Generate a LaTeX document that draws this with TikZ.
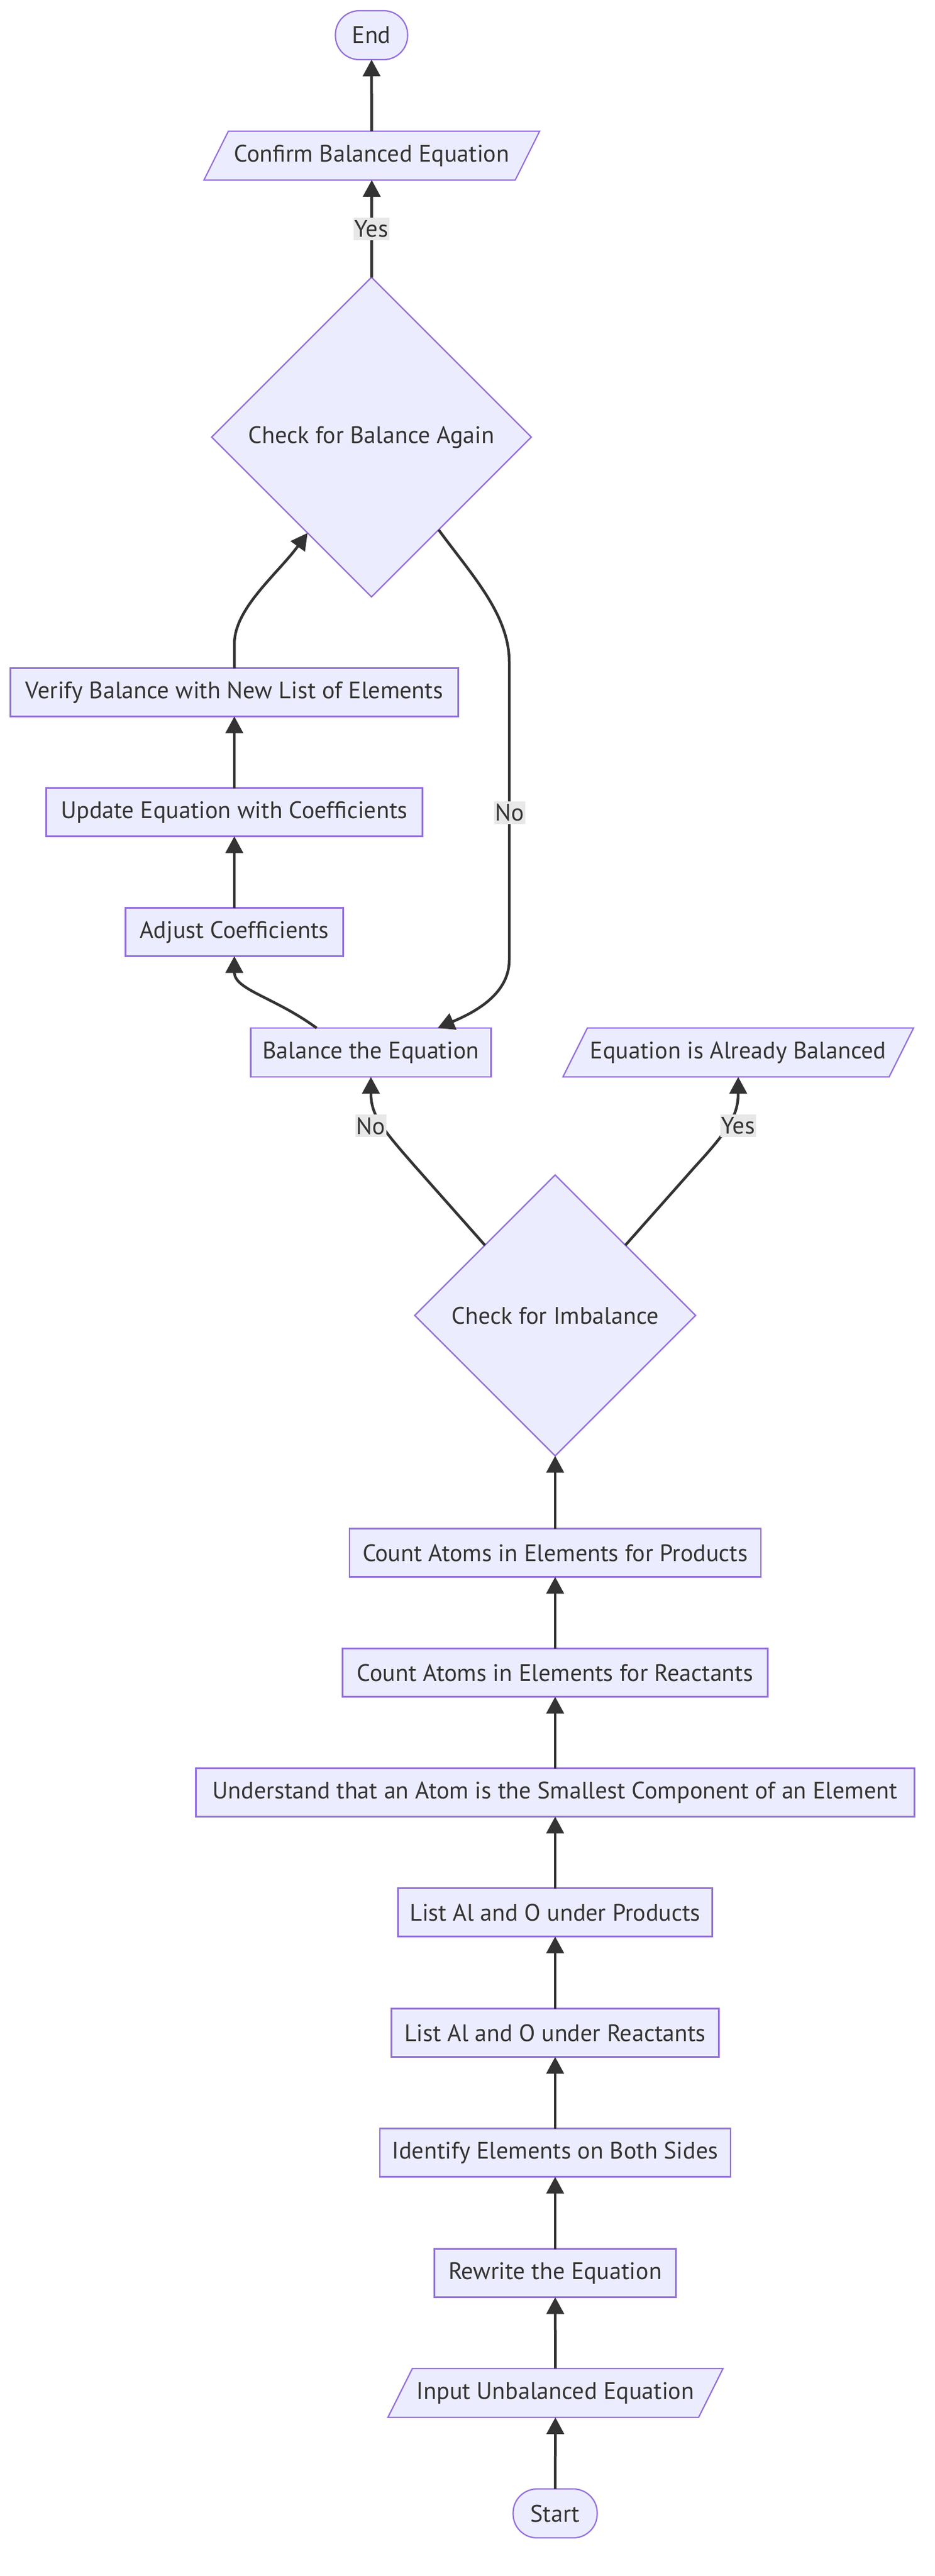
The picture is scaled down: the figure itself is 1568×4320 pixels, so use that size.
\documentclass[tikz,border=0pt]{standalone}
\usepackage{fontspec}
\setmainfont{PT Sans}
\usetikzlibrary{shapes.geometric,arrows.meta,calc}
\definecolor{nfill}{HTML}{ECECFF}
\definecolor{nborder}{HTML}{9370DB}
\definecolor{ntext}{HTML}{333333}
\definecolor{lblbg}{HTML}{E8E8E8}
\newcommand{\ioshape}[5]{%
  \draw[shapeline] (#2-#4+20.5,#3-41) -- (#2+#4+20.5,#3-41) -- (#2+#4-20.5,#3+41) -- (#2-#4-20.5,#3+41) -- cycle;
  \node[txt, minimum width=2*#4, minimum height=82] (#1) at (#2,#3) {#5};}
\begin{document}
\begin{tikzpicture}[x=1pt,y=-1pt,
  txt/.style={text=ntext, font=\fontsize{40}{48}\selectfont, inner sep=0pt, outer sep=0pt, rectangle},
  shapeline/.style={draw=nborder, fill=nfill, line width=2.2pt},
  procbox/.style={txt, shapeline, minimum height=81, minimum width=#1},
  termbox/.style={txt, shapeline, minimum height=82, minimum width=#1, rounded corners=40pt},
  decision/.style={txt, shapeline, diamond, aspect=1, minimum width=#1, minimum height=#1},
  edge/.style={draw=ntext, line width=4.5pt, -{Triangle[length=28pt,width=29pt]}},
  edgelbl/.style={txt, fill=lblbg, inner xsep=2pt, inner ysep=5pt}
]
\useasboundingbox (0,0) rectangle (1568,4320);

% upper part
\node[termbox=121] (endn) at (623,59) {End};
\ioshape{confirm}{623.5}{261}{261}{Confirm Balanced Equation}
\node[decision=536] (again) at (623,733) {Check for Balance Again};
\node[procbox=751] (verify) at (393,1161) {Verify Balance with New List of Elements};
\node[procbox=631] (update) at (393,1362) {Update Equation with Coefficients};
\node[procbox=365] (adjust) at (393,1563) {Adjust Coefficients};
\node[procbox=403, minimum height=82] (balance) at (622,1765) {Balance the Equation};
\ioshape{already}{1238}{1765}{273.5}{Equation is Already Balanced}

% lower chain
\node[decision=471] (imbal) at (931,2206) {Check for Imbalance};
\node[procbox=690] (countp) at (931,2604) {Count Atoms in Elements for Products};
\node[procbox=713] (countr) at (931,2805) {Count Atoms in Elements for Reactants};
\node[procbox=1205] (underst) at (931,3006) {Understand that an Atom is the Smallest Component of an Element};
\node[procbox=527] (listp) at (931,3207) {List Al and O under Products};
\node[procbox=549] (listr) at (931,3409) {List Al and O under Reactants};
\node[procbox=588] (ident) at (931,3610) {Identify Elements on Both Sides};
\node[procbox=405] (rewrite) at (931,3812) {Rewrite the Equation};
\ioshape{input}{931.5}{4013}{260.5}{Input Unbalanced Equation}
\node[termbox=141] (start) at (931,4215) {Start};

% straight edges
\draw[edge] (start) -- (input);
\draw[edge] (input) -- (rewrite);
\draw[edge] (rewrite) -- (ident);
\draw[edge] (ident) -- (listr);
\draw[edge] (listr) -- (listp);
\draw[edge] (listp) -- (underst);
\draw[edge] (underst) -- (countr);
\draw[edge] (countr) -- (countp);
\draw[edge] (countp) -- (imbal);
\draw[edge] (adjust) -- (update);
\draw[edge] (update) -- (verify);
\draw[edge] (again) -- (confirm);
\draw[edge] (confirm) -- (endn);

% curved edges
\coordinate (noA) at (696,1956);
\coordinate (yesA) at (1166,1956);
\draw[edge] (imbal.north west) -- (noA) .. controls (640,1892) and (622,1870) .. (balance.south);
\draw[edge] (imbal.north east) -- (yesA) .. controls (1222,1895) and (1238,1870) .. (already.south);
\coordinate (balTop) at ([xshift=-91pt]balance.north);
\draw[edge] (balTop) .. controls (460,1672) and (393,1660) .. (adjust.south);
\coordinate (vUp) at (393,1080);
\coordinate (agIn) at ($(again.west)!0.6!(again.south)$);
\draw[edge] (verify.north) -- (vUp) .. controls (393,1020) and (465,963) .. (agIn);
\coordinate (agOut) at ($(again.east)!0.58!(again.south)$);
\coordinate (nTop) at (854,1110);
\coordinate (nBot) at (854,1610);
\coordinate (balIn) at ([xshift=112pt]balance.north);
\draw[edge] (agOut) .. controls (790,963) and (854,1030) .. (nTop) -- (nBot) .. controls (854,1670) and (790,1700) .. (balIn);

% edge labels
\node[edgelbl] (lblYesTop) at (623,384) {Yes};
\node[edgelbl] (lblNoUp) at (855,1363) {No};
\node[edgelbl] (lblNo) at (622,1888) {No};
\node[edgelbl] (lblYes) at (1238,1888) {Yes};
\end{tikzpicture}
\end{document}
